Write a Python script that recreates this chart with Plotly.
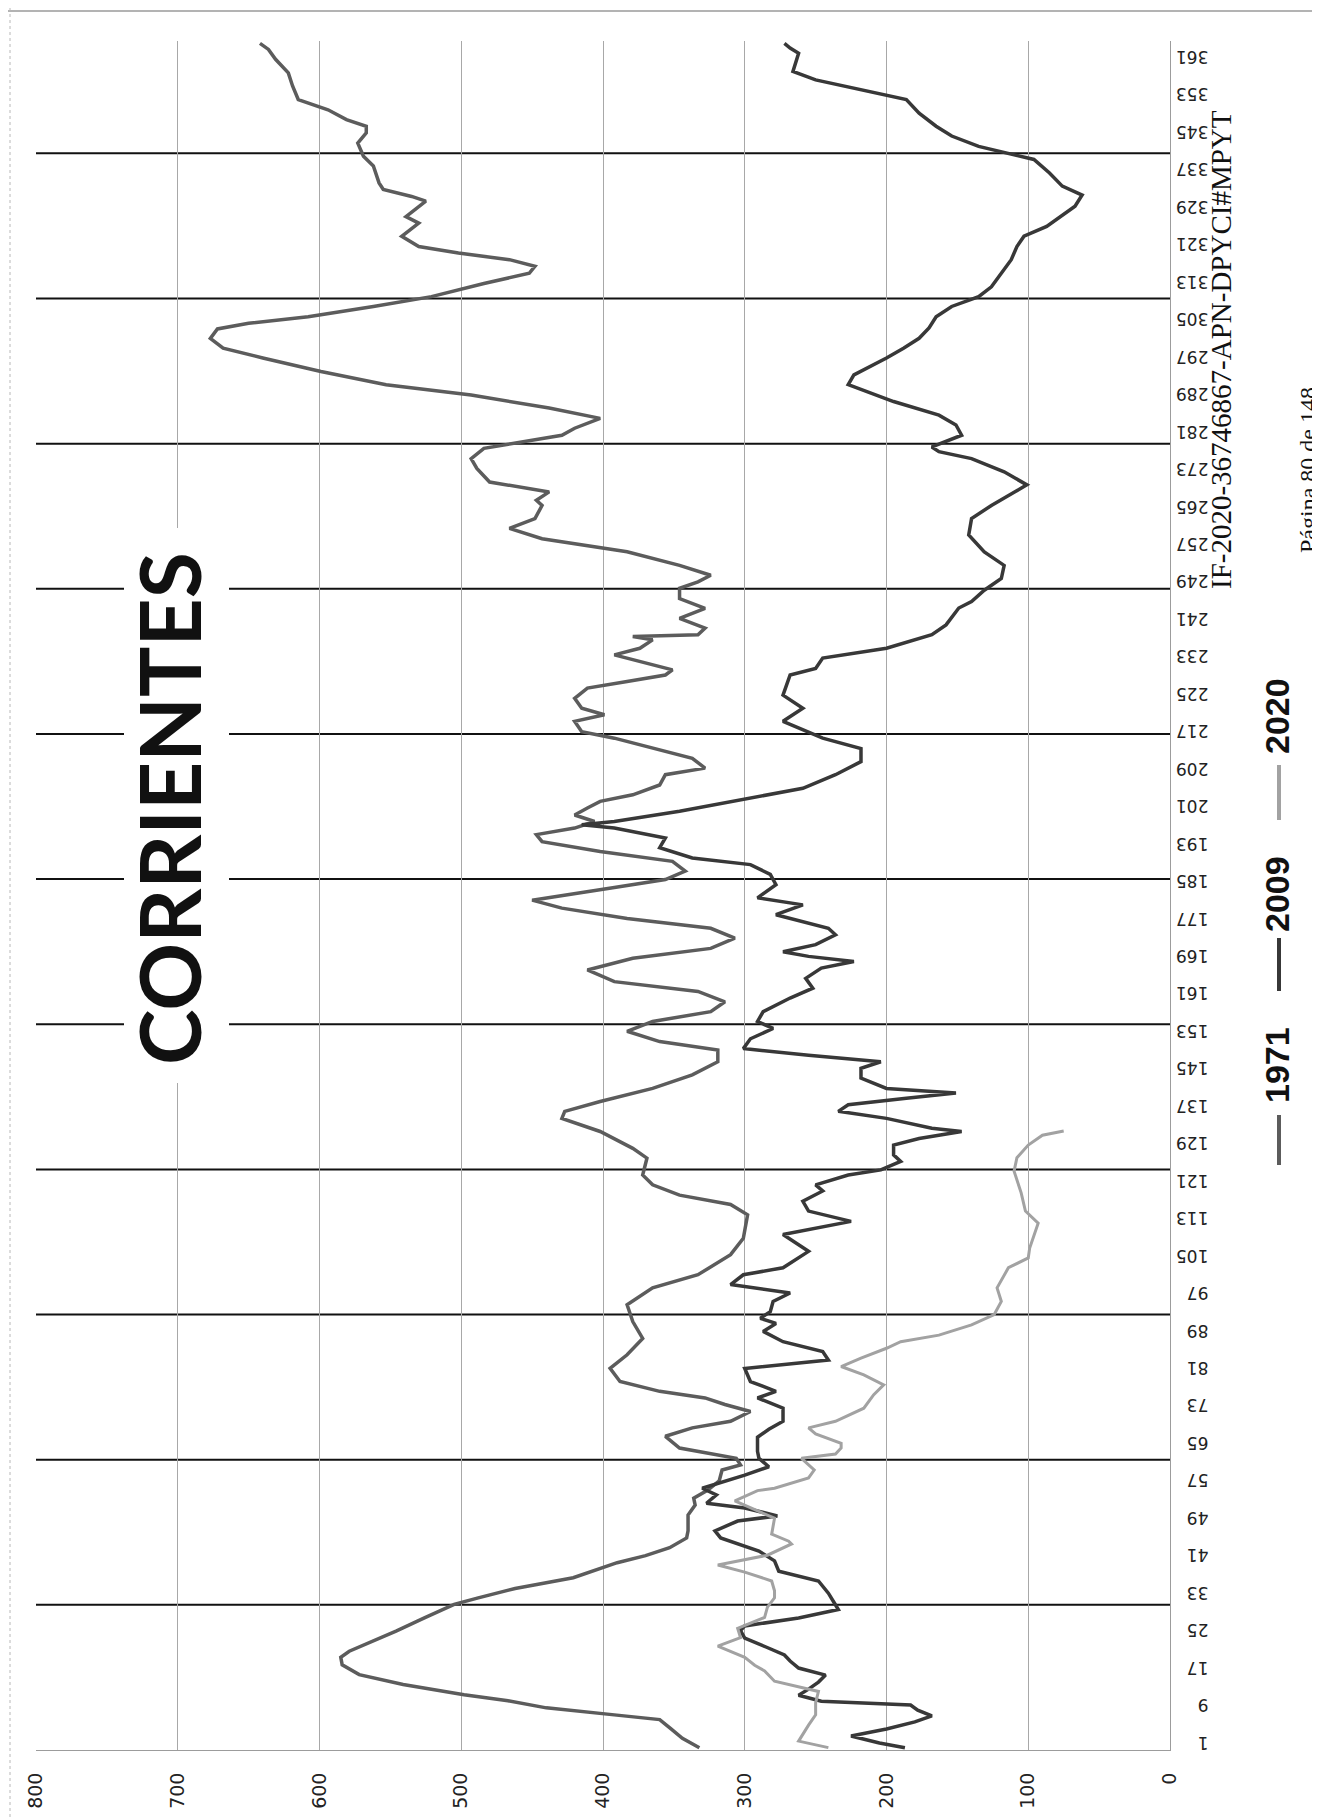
import plotly.graph_objects as go

# ---- data (day of year -> value) ----
days_1971 = [1, 3, 5, 7, 8, 9.5, 11, 12.3, 14.5, 16.6, 18.7, 20.3, 21.6, 23, 25.9, 28.7, 31.6, 33, 34.4, 35,
             37.3, 39.4, 40.5, 42, 43.7, 45.8, 47.3, 50.7, 52.8, 54.3, 56, 58, 60.3, 61.4, 62.8, 65, 67.5, 69.3,
             70.7, 72.8, 74.3, 75.7, 77.1, 79.2, 82, 84.9, 88.4, 92, 95.6, 99.2, 102, 106.3, 109.8, 114.8, 117,
             119, 121.2, 123.3, 126.9, 129, 132.6, 135.4, 136.9, 139, 141.8, 144.7, 147.5, 150, 151.8, 154,
             156.1, 158.2, 160.3, 162.5, 164.6, 167.1, 169.6, 171.7, 173.9, 176, 178.1, 180.3, 182, 184.7,
             186.4, 188.2, 190.3, 192.4, 194.5, 196, 197.4, 198.8, 200.2, 201.7, 203.1, 204.5, 206.6, 208.8,
             210.2, 212.3, 214.4, 216.6, 218, 220.2, 221.6, 223, 225.1, 227.3, 228.7, 230.1, 231.2, 233, 234.4,
             235.8, 237.6, 238.3, 238.7, 240.1, 242.2, 244.3, 246.4, 248.6, 250, 251.4, 253.5, 256.4, 257.8,
             259.2, 261.4, 263.5, 266.3, 267.4, 269.2, 271.3, 274.2, 276.3, 278.5, 279.9, 281.3, 282.8, 284.9,
             287.1, 289.9, 292.1, 294.9, 297.8, 299.9, 302, 304, 305.2, 306.6, 308.8, 310.9, 313.7, 315.9,
             317.4, 318.8, 320.2, 321.6, 323.8, 326.6, 328, 330.2, 331.3, 332.3, 333.8, 335.2, 338.8, 340.9,
             343.7, 345.9, 347.3, 348.7, 350.8, 353, 355.9, 358.7, 361.6, 363.7, 365]
vals_1971 = [332, 344, 352, 360, 392, 440, 467, 498, 541, 572, 584, 585, 579, 568, 546, 526, 505, 488, 469, 462,
             421, 400, 390, 370, 353, 341, 340, 340, 335, 336, 326, 318, 316, 303, 306, 346, 356, 337,
             310, 296, 314, 328, 360, 388, 395, 383, 372, 379, 383, 365, 333, 310, 301, 298, 310,
             346, 365, 372, 369, 379, 402, 429, 427, 402, 365, 337, 319, 319, 360, 383,
             365, 324, 314, 333, 392, 411, 379, 324, 307, 324, 383, 429, 450, 392,
             356, 342, 351, 402, 443, 447, 420, 406, 420, 411, 402, 379, 360, 356,
             328, 337, 365, 392, 415, 420, 399, 415, 420, 411, 383, 356, 351, 374, 392,
             374, 365, 379, 333, 328, 346, 328, 346, 346, 333, 324, 346, 383, 415,
             443, 466, 448, 443, 447, 438, 480, 489, 493, 484, 457, 429, 420, 402,
             438, 493, 553, 599, 640, 668, 677, 672, 650, 608, 562, 521, 484, 452,
             448, 466, 502, 530, 542, 530, 539, 530, 525, 535, 555, 558, 562, 569,
             573, 567, 567, 581, 594, 615, 619, 622, 631, 636, 642]

days_2009 = [1, 2, 3.5, 5, 6.5, 7.8, 9, 10.1, 10.9, 12.2, 13.5, 15, 16.5, 18, 19.5, 20.8, 22.5, 24.4, 26, 27,
             28.7, 30.5, 32, 34, 36.6, 38.7, 40.9, 43, 45.8, 47.3, 49.4, 50.5, 52.2, 53.2, 55, 56.4, 59.2, 61,
             62.8, 64.3, 67.3, 69, 70.7, 73.5, 75.7, 77.1, 79.2, 82, 83.8, 85.6, 87.7, 89.9, 91.6, 92.7, 94.1,
             96.3, 98.1, 99.9, 102, 103.5, 107, 110.6, 113.4, 115.6, 117.7, 119.9, 121.2, 123.3, 124.4, 126.2,
             127.6, 129.7, 131.1, 132.6, 133.3, 135.4, 136.9, 138.3, 139.7, 140.8, 141.8, 144, 146.1, 147.5,
             148.9, 150.3, 152.4, 154.6, 156.1, 158.2, 161.1, 163.2, 165.3, 167.5, 168.9, 170, 171, 172.5,
             174.6, 176, 178.9, 181, 182.5, 185.3, 187.5, 189.6, 191, 193.2, 195.3, 197.4, 198.1, 198.8, 201,
             203.1, 205.9, 208.8, 211.6, 214.4, 216.6, 220.2, 223, 225.8, 230.1, 231.5, 233.7, 235.8, 238.7,
             240.8, 244.4, 245.8, 248.2, 250.7, 253.5, 256.4, 260, 263.5, 266.3, 270.7, 273.5, 276.3, 277.8,
             278.8, 281.3, 283.5, 285.6, 288.5, 292.1, 294.2, 297.8, 299.9, 302, 304.2, 306.6, 308.8, 310.9,
             313, 315.9, 318.8, 321.6, 323.8, 325.9, 330.2, 332.6, 334.5, 337.3, 340.2, 343, 345.2, 347.3,
             350.1, 353, 355.1, 357.2, 359, 360.8, 362.9, 364, 365]
vals_2009 = [187, 205, 225, 200, 180, 168, 178, 183, 246, 262, 255, 248, 243, 262, 268, 272, 285, 300, 303, 300,
             262, 234, 237, 241, 248, 276, 279, 290, 317, 321, 305, 277, 300, 327, 320, 330, 300, 283,
             290, 291, 291, 283, 273, 273, 291, 278, 296, 300, 241, 245, 273, 287, 278, 289, 282,
             280, 268, 310, 301, 273, 255, 273, 225, 255, 259, 245, 250, 227, 204, 190,
             195, 195, 177, 147, 168, 200, 234, 227, 186, 151, 200, 218, 218, 204,
             255, 301, 296, 280, 291, 287, 268, 252, 257, 246, 223, 255, 273, 250,
             236, 241, 278, 259, 291, 278, 282, 296, 337, 360, 356, 392, 415, 392, 346,
             310, 259, 236, 218, 218, 245, 273, 259, 273, 268, 250, 245, 200, 168,
             158, 149, 140, 131, 119, 117, 131, 142, 140, 126, 101, 117, 140, 163,
             168, 147, 151, 163, 195, 227, 223, 200, 188, 177, 170, 165, 154, 135,
             126, 119, 112, 108, 103, 87, 67, 62, 76, 85, 96, 135, 154, 165,
             177, 186, 218, 250, 266, 264, 262, 268, 272]

days_2020 = [1, 2.4, 5.8, 8, 10.6, 13, 15.2, 17.4, 18.6, 20.3, 22.7, 24.5, 26.5, 28.8, 31, 33, 34.5, 36.6, 38.5,
             40, 42.1, 44.5, 45.1, 46.6, 50, 53.7, 55.9, 56.4, 58.6, 60.3, 62.8, 63.7, 65, 66, 68, 69.3, 70.7,
             73.5, 76.4, 78.5, 80.6, 82.4, 84.2, 86.3, 87.7, 89.1, 91.3, 93.5, 96.3, 99.2, 103.5, 105.6, 107.7,
             112, 113, 115.6, 119.5, 124.1, 127, 129.7, 131.8, 132.7]
vals_2020 = [241, 262, 255, 250, 250, 248, 279, 286, 293, 300, 319, 303, 305, 286, 284, 279, 279, 281, 300,
             319, 284, 267, 269, 281, 279, 307, 291, 279, 255, 251, 260, 236, 232, 232, 250, 255, 236,
             216, 209, 202, 216, 232, 218, 200, 190, 163, 140, 124, 119, 122, 114, 100, 99,
             94, 93, 102, 105, 110, 108, 100, 90, 75]

day_ticks = list(range(1, 362, 8))
month_lines = [31.5 + 31 * k for k in range(11)]

# plot area in page pixels
L, R, T, B = 28, 1162, 33, 1742
W, H = 1320, 1818


def px_x(p):
    return (p - L) / (R - L)


def px_y(p):
    return (B - p) / (B - T)


fig = go.Figure()
fig.add_trace(go.Scatter(x=vals_1971, y=days_1971, mode="lines", name="1971",
                         line=dict(color="#5c5c5c", width=3.5), showlegend=False))
fig.add_trace(go.Scatter(x=vals_2009, y=days_2009, mode="lines", name="2009",
                         line=dict(color="#383838", width=3.5), showlegend=False))
fig.add_trace(go.Scatter(x=vals_2020, y=days_2020, mode="lines", name="2020",
                         line=dict(color="#a2a2a2", width=3), showlegend=False))

shapes = []
for d in month_lines:
    shapes.append(dict(type="line", xref="x", yref="y", x0=800, x1=-5, y0=d, y1=d,
                       line=dict(color="#111111", width=2), layer="below"))
# white box behind the title
shapes.append(dict(type="rect", xref="paper", yref="paper", x0=px_x(116), x1=px_x(221),
                   y0=px_y(1075), y1=px_y(520), fillcolor="white", line_width=0, layer="above"))
# page edges from the scan
shapes.append(dict(type="line", xref="paper", yref="paper", x0=px_x(0), x1=px_x(W), y0=px_y(3), y1=px_y(3),
                   line=dict(color="#9a9a9a", width=1.5)))
shapes.append(dict(type="line", xref="paper", yref="paper", x0=px_x(1317), x1=px_x(1317), y0=px_y(0), y1=px_y(H),
                   line=dict(color="#b0b0b0", width=1)))
shapes.append(dict(type="line", xref="paper", yref="paper", x0=px_x(2), x1=px_x(2), y0=px_y(0), y1=px_y(H),
                   line=dict(color="#b8b8b8", width=1, dash="dot")))

# legend drawn vertically, like the rotated original
legend_items = [("1971", "#5c5c5c", 1157, 1107, 1057), ("2009", "#383838", 983, 930, 886),
                ("2020", "#a2a2a2", 812, 757, 708)]
annotations = []
for label, color, ya, yb, yt in legend_items:
    shapes.append(dict(type="line", xref="paper", yref="paper", x0=px_x(1271), x1=px_x(1271),
                       y0=px_y(ya), y1=px_y(yb), line=dict(color=color, width=4)))
    annotations.append(dict(text="<b>%s</b>" % label, xref="paper", yref="paper", x=px_x(1269), y=px_y(yt),
                            showarrow=False, textangle=-90, xanchor="center", yanchor="middle",
                            font=dict(family="Liberation Sans", size=34, color="#111111")))

annotations.append(dict(text="<b>CORRIENTES</b>", xref="paper", yref="paper", x=px_x(160), y=px_y(801),
                        showarrow=False, textangle=-90, xanchor="center", yanchor="middle",
                        font=dict(family="Lato", size=84, color="#111111")))
annotations.append(dict(text="IF-2020-36746867-APN-DPYCI#MPYT", xref="paper", yref="paper",
                        x=px_x(1213), y=px_y(342), showarrow=False, textangle=-90,
                        xanchor="center", yanchor="middle",
                        font=dict(family="Liberation Serif", size=29, color="#111111")))
annotations.append(dict(text="Página 80 de 148", xref="paper", yref="paper",
                        x=px_x(1300), y=px_y(462), showarrow=False, textangle=-90,
                        xanchor="center", yanchor="middle",
                        font=dict(family="Liberation Serif", size=24, color="#111111")))

fig.update_layout(
    width=W, height=H,
    margin=dict(l=L, r=W - R, t=T, b=H - B, pad=0),
    paper_bgcolor="white", plot_bgcolor="white",
    shapes=shapes, annotations=annotations,
    showlegend=False,
)
fig.update_xaxes(range=[800, 0], dtick=100, tick0=0, showgrid=True, gridcolor="#a8a8a8", gridwidth=1,
                 zeroline=False, showline=True, linecolor="#9c9c9c", linewidth=1,
                 ticks="", tickangle=-90, ticklabelstandoff=14,
                 tickfont=dict(family="DejaVu Sans", size=19, color="#222222"))
fig.update_yaxes(range=[0.5, 365.5], side="right", tickmode="array", tickvals=day_ticks,
                 ticktext=[str(d) for d in day_ticks], tickangle=180, showgrid=False, zeroline=False,
                 showline=True, linecolor="#9c9c9c", linewidth=1, ticks="", ticklabelstandoff=34,
                 tickfont=dict(family="DejaVu Sans", size=17, color="#222222"))

fig.write_html("out.html")
